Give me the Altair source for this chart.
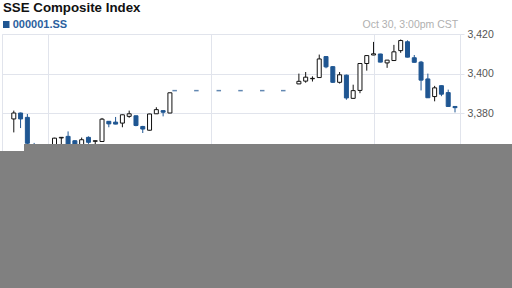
import altair as alt
import pandas as pd

# ---------------- data ----------------
title_text = "SSE Composite Index"
symbol_text = "000001.SS"
stamp_text = "Oct 30, 3:00pm CST"

times = ["09:35", "09:40", "09:45", "09:50", "09:55", "10:00", "10:05", "10:10",
         "10:15", "10:20", "10:25", "10:30", "10:35", "10:40", "10:45", "10:50",
         "10:55", "11:00", "11:05", "11:10", "11:15", "11:20", "11:25", "11:30",
         "13:05", "13:10", "13:15", "13:20", "13:25", "13:30", "13:35", "13:40",
         "13:45", "13:50", "13:55", "14:00", "14:05", "14:10", "14:15", "14:20",
         "14:25", "14:30", "14:35", "14:40", "14:45", "14:50", "14:55", "15:00"]

opens = [3377.1, 3380.1, 3377.9, 3363.5, 3358.0, 3355.0, 3360.0, 3367.5,
         3368.3, 3366.1, 3362.0, 3367.8, 3365.8, 3365.7, 3375.9, 3375.5,
         3375.0, 3378.4, 3378.7, 3373.3, 3371.4, 3379.7, 3381.3, 3380.1,
         3394.8, 3396.2, 3397.4, 3398.0, 3408.6, 3403.5, 3395.6, 3399.2,
         3387.5, 3391.5, 3405.1, 3409.4, 3409.9, 3405.4, 3406.6, 3411.6,
         3416.1, 3408.0, 3405.8, 3397.3, 3388.4, 3393.9, 3390.4, 3383.4]
highs = [3381.3, 3380.3, 3379.6, 3365.0, 3361.0, 3362.0, 3367.6, 3367.8,
         3370.8, 3366.3, 3367.7, 3368.3, 3366.1, 3377.6, 3376.0, 3378.1,
         3379.3, 3381.3, 3378.8, 3373.6, 3379.7, 3383.0, 3381.4, 3390.4,
         3400.0, 3400.8, 3398.6, 3409.6, 3408.7, 3403.8, 3400.8, 3399.5,
         3394.4, 3405.2, 3409.2, 3416.0, 3410.0, 3406.9, 3414.5, 3417.2,
         3416.8, 3409.4, 3406.4, 3400.0, 3393.8, 3394.0, 3391.9, 3383.5]
lows = [3370.3, 3372.5, 3364.0, 3355.0, 3352.0, 3353.0, 3358.0, 3361.0,
        3361.0, 3359.0, 3360.0, 3364.5, 3361.5, 3365.5, 3372.9, 3374.4,
        3372.9, 3377.7, 3373.4, 3370.0, 3371.3, 3379.6, 3378.4, 3380.0,
        3394.7, 3395.4, 3396.0, 3397.9, 3402.7, 3395.3, 3395.0, 3386.8,
        3387.4, 3390.1, 3401.5, 3409.3, 3405.7, 3402.9, 3406.5, 3410.5,
        3408.2, 3405.6, 3391.5, 3387.7, 3386.0, 3388.6, 3383.3, 3380.4]
closes = [3380.1, 3377.1, 3364.8, 3358.0, 3355.0, 3360.0, 3367.4, 3367.8,
          3362.5, 3361.0, 3366.6, 3365.3, 3366.1, 3377.0, 3374.6, 3374.5,
          3379.2, 3379.7, 3373.8, 3372.0, 3379.6, 3381.8, 3380.5, 3390.3,
          3396.1, 3398.2, 3397.6, 3407.4, 3403.4, 3395.6, 3399.4, 3387.7,
          3391.4, 3405.1, 3409.1, 3410.0, 3405.8, 3406.8, 3411.0, 3416.7,
          3408.3, 3405.7, 3396.7, 3387.8, 3392.8, 3389.6, 3383.4, 3382.8]

# lunch-break markers (minutes after 09:30) and their level
break_minutes = [123.5, 139.5, 156.0, 172.0, 188.0, 203.5]
break_levels = [3391.4, 3391.4, 3391.4, 3391.4, 3391.4, 3391.4]

y_ticks = [3320, 3340, 3360, 3380, 3400, 3420]
grid_minutes = [30, 150, 270]  # 10:00, 12:00, 14:00

# ---------------- styling ----------------
FONT = "Liberation Sans"
BLUE = "#1f5692"
BLACK = "#111111"
GRID = "#e1e4ec"
GRAY = "#808080"


def to_minutes(s):
    h, m = s.split(":")
    return (int(h) - 9) * 60 + int(m) - 30


df = pd.DataFrame({"t": [to_minutes(s) for s in times], "open": opens,
                   "high": highs, "low": lows, "close": closes})
df["dir"] = ["up" if c >= o else "down" for o, c in zip(opens, closes)]
breaks = pd.DataFrame({"t": break_minutes, "v": break_levels})

x_scale = alt.Scale(domain=[0, 330], nice=False, zero=False)
y_scale = alt.Scale(domain=[3320, 3420], nice=False, zero=False)
x_axis = alt.Axis(values=grid_minutes, labels=False, ticks=False, domain=False,
                  grid=True, gridColor=GRID, title=None)
y_axis = alt.Axis(orient="right", values=y_ticks, format=",.0f", title=None,
                  domain=False, grid=True, gridColor=GRID, tickColor=GRID,
                  tickSize=4, labelPadding=3, labelFont=FONT, labelFontSize=10.5,
                  labelColor="#555555")

X = alt.X("t:Q", scale=x_scale, axis=x_axis)
dir_dom = ["up", "down"]

wicks = alt.Chart(df).mark_rule(strokeWidth=1).encode(
    x=X,
    y=alt.Y("low:Q", scale=y_scale, axis=y_axis),
    y2="high:Q",
    color=alt.Color("dir:N", scale=alt.Scale(domain=dir_dom, range=[BLACK, BLUE]), legend=None),
)

bodies = alt.Chart(df).mark_bar(size=4, strokeWidth=1).encode(
    x=X,
    y=alt.Y("open:Q", scale=y_scale, axis=y_axis),
    y2="close:Q",
    fill=alt.Fill("dir:N", scale=alt.Scale(domain=dir_dom, range=["#ffffff", BLUE]), legend=None),
    stroke=alt.Stroke("dir:N", scale=alt.Scale(domain=dir_dom, range=[BLACK, BLUE]), legend=None),
)

dashes = alt.Chart(breaks).mark_tick(orient="horizontal", size=4.5, thickness=1.5, color=BLUE).encode(
    x=X,
    y=alt.Y("v:Q", scale=y_scale, axis=y_axis),
)

one = pd.DataFrame({"a": [0]})

cover1 = alt.Chart(one).mark_rect(color=GRAY).encode(
    x=alt.value(22), x2=alt.value(510), y=alt.value(110), y2=alt.value(254))
cover2 = alt.Chart(one).mark_rect(color=GRAY).encode(
    x=alt.value(-2), x2=alt.value(22), y=alt.value(117), y2=alt.value(254))

title = alt.Chart(one).mark_text(text=title_text, align="left", baseline="alphabetic",
                                 font=FONT, fontSize=13.3, fontWeight="bold",
                                 color="#111111").encode(x=alt.value(1), y=alt.value(-22.5))
swatch = alt.Chart(one).mark_rect(color=BLUE).encode(
    x=alt.value(1), x2=alt.value(7.5), y=alt.value(-13), y2=alt.value(-6))
symbol = alt.Chart(one).mark_text(text=symbol_text, align="left", baseline="alphabetic",
                                  font=FONT, fontSize=11, fontWeight="bold",
                                  color="#2b5f9e").encode(x=alt.value(10.7), y=alt.value(-6.5))
stamp = alt.Chart(one).mark_text(text=stamp_text, align="right", baseline="alphabetic",
                                 font=FONT, fontSize=10.5, color="#b0b0b0").encode(
    x=alt.value(456.3), y=alt.value(-6))

chart = alt.layer(wicks, bodies, dashes, cover1, cover2, title, swatch, symbol, stamp).properties(
    width=458, height=198,
    padding={"left": 2, "top": 34, "right": 52, "bottom": 56},
    autosize=alt.AutoSizeParams(type="none"),
    background="white",
).configure_view(stroke=GRID, strokeWidth=1)

chart.save("out.html", embed_options={"renderer": "svg", "actions": False})
